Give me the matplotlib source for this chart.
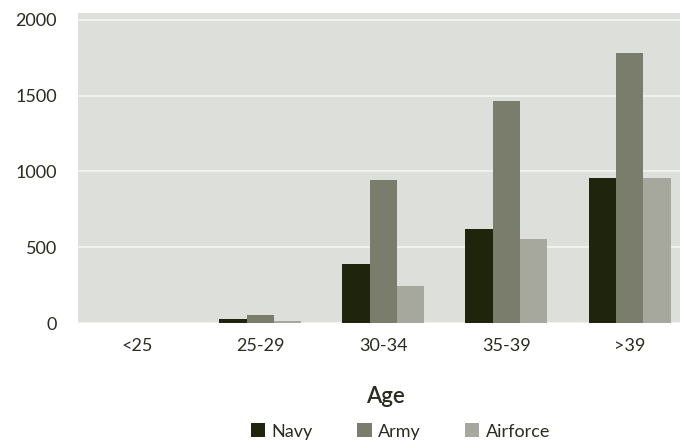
import numpy as np
import matplotlib
matplotlib.use("Agg")
import matplotlib.pyplot as plt

ages = ["<25", "25-29", "30-34", "35-39", ">39"]
navy = [0, 26, 390, 621, 958]
army = [0, 53, 945, 1466, 1783]
airforce = [0, 13, 244, 555, 958]

series = [("Navy", navy, "#1f250d"), ("Army", army, "#7a7d6b"), ("Airforce", airforce, "#a6a89d")]
text_color = "#2b2b1f"

plt.rcParams["font.family"] = ["Lato", "DejaVu Sans"]

fig = plt.figure(figsize=(6.8, 4.44), dpi=100)
ax = fig.add_axes([78 / 680, 1 - 323 / 444, 1 - 78 / 680 + 0.02, 310 / 444])
ax.set_facecolor("#dddfda")

x = np.arange(len(ages))
w = 0.222
for i, (name, vals, col) in enumerate(series):
    ax.bar(x + (i - 1) * w - 0.02, vals, width=w, color=col, label=name, zorder=3)

ax.set_ylim(0, 2046)
ax.set_xlim(-0.5, 4.5)
ax.set_yticks([0, 500, 1000, 1500, 2000])
ax.set_xticks(x - 0.02)
ax.set_xticklabels(ages)
ax.grid(axis="y", color="#f2f3f0", linewidth=1.3, zorder=1)
for s in ax.spines.values():
    s.set_visible(False)
ax.tick_params(length=0, colors=text_color, labelsize=13)
ax.tick_params(axis="y", pad=15)
ax.tick_params(axis="x", pad=11)
ax.set_xlabel("Age", fontsize=16, color=text_color, labelpad=23, fontweight="semibold")

ax.legend(loc="center", bbox_to_anchor=(0.524, -0.35), ncol=3, frameon=False,
          fontsize=13, handlelength=0.8, handleheight=0.8, handletextpad=0.35,
          columnspacing=2.45, labelcolor=text_color)

fig.savefig("out.png", dpi=100)
